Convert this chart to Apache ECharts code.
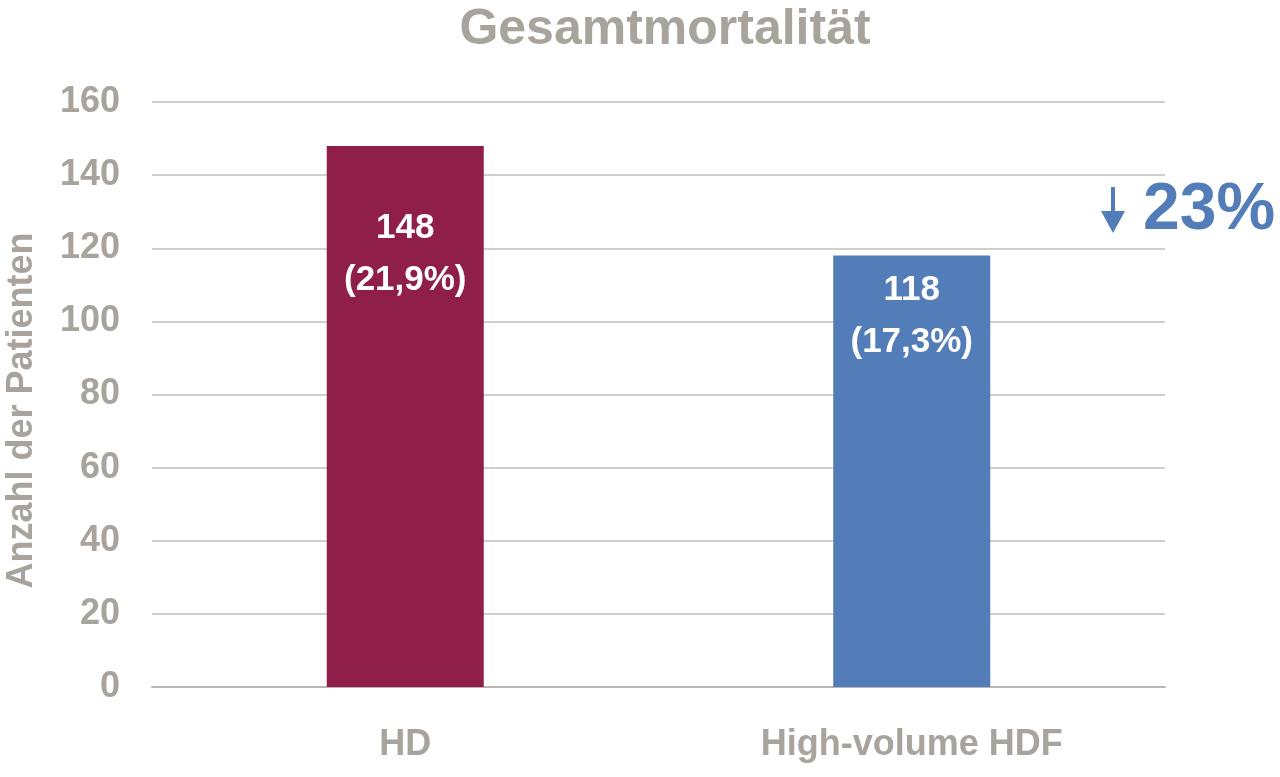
<!DOCTYPE html>
<html>
<head>
<meta charset="utf-8">
<script src="https://cdn.jsdelivr.net/npm/echarts@6/dist/echarts.min.js"></script>
<style>html,body{margin:0;padding:0;background:#fff}#c{width:1280px;height:777px}</style>
</head>
<body>
<div id="c"></div>
<script>
const categories = ['HD', 'High-volume HDF'];
const values = [148, 118];
const percents = ['21,9%', '17,3%'];
const barColors = ['#8f1f48', '#527db8'];
const labelDistances = [56, 9];
const reductionText = '23%';
const yTicks = { min: 0, max: 160, interval: 20 };

const grey = '#a8a39d';
const font = '"Liberation Sans", Arial, Helvetica, sans-serif';

const chart = echarts.init(document.getElementById('c'), null, { renderer: 'canvas' });
chart.setOption({
  backgroundColor: '#fff',
  animation: false,
  title: {
    text: 'Gesamtmortalität',
    left: 660, top: 0, textAlign: 'center',
    textStyle: { color: grey, fontFamily: font, fontWeight: 'bold', fontSize: 50 }
  },
  grid: { left: 152, right: 115, top: 102, bottom: 90, containLabel: false, outerBoundsMode: 'none' },
  xAxis: {
    type: 'category',
    data: categories,
    axisLine: { show: true, lineStyle: { color: '#b9b5af', width: 2 } },
    axisTick: { show: false },
    axisLabel: { color: grey, fontFamily: font, fontWeight: 'bold', fontSize: 36, margin: 40 }
  },
  yAxis: {
    type: 'value',
    min: yTicks.min, max: yTicks.max, interval: yTicks.interval,
    name: 'Anzahl der Patienten',
    nameLocation: 'middle',
    nameGap: 112,
    nameRotate: 90,
    nameTextStyle: { color: grey, fontFamily: font, fontWeight: 'bold', fontSize: 36, padding: [0, 32, 0, 0] },
    axisLine: { show: false },
    axisTick: { show: false },
    axisLabel: { color: grey, fontFamily: font, fontWeight: 'bold', fontSize: 36, margin: 32 },
    splitLine: { show: true, lineStyle: { color: '#c3bfb9', width: 1.5 } }
  },
  series: [{
    type: 'bar',
    barWidth: '31%',
    data: values.map((v, i) => ({
      value: v,
      itemStyle: { color: barColors[i] },
      label: {
        show: true,
        position: 'insideTop',
        distance: labelDistances[i],
        formatter: v + '\n(' + percents[i] + ')',
        color: '#fff',
        fontFamily: font,
        fontWeight: 'bold',
        fontSize: 35,
        lineHeight: 52
      }
    }))
  }],
  graphic: [
    { type: 'rect', shape: { x: 1111, y: 187, width: 4, height: 28 }, style: { fill: '#527db8' } },
    { type: 'polygon', shape: { points: [[1101, 211], [1125, 211], [1113, 233]] }, style: { fill: '#527db8' } },
    { type: 'text', left: 1143, top: 178, style: { text: reductionText, fill: '#527db8', font: 'bold 66px "Liberation Sans", Arial, sans-serif' } }
  ]
});
</script>
</body>
</html>
